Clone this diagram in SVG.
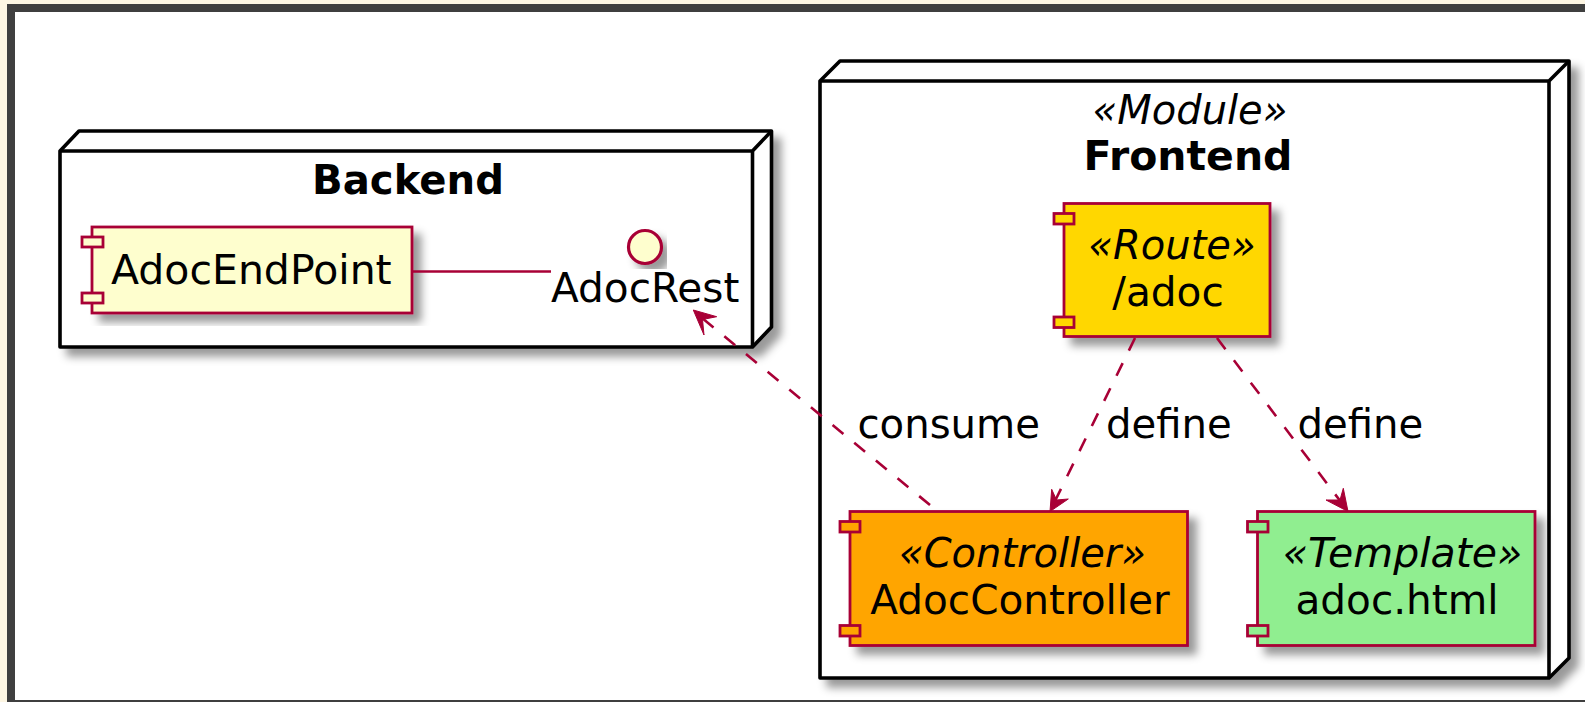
<svg xmlns="http://www.w3.org/2000/svg" width="1585" height="702" viewBox="0 0 1585 702">
<style>
text{font-family:"DejaVu Sans",sans-serif;font-size:40.6px;fill:#000}
.t{text-anchor:middle}
.b{font-weight:bold;font-size:40.2px}
.i{font-style:italic;font-size:40px}
.l{font-size:40.2px}
.n{fill:#fff;stroke:#000;stroke-width:3.6;stroke-linejoin:round}
.c{stroke:#A80036;stroke-width:2.8}
.e{fill:none;stroke:#A80036;stroke-width:2.6}
.d{stroke-dasharray:14 14}
.h{fill:#A80036;stroke:#A80036;stroke-width:1;stroke-linejoin:round}
.s{filter:url(#sh)}
</style>
<defs>
<filter id="sh" x="-10%" y="-10%" width="125%" height="125%"><feDropShadow dx="8" dy="8" stdDeviation="4.500" flood-color="#000" flood-opacity="0.4"/></filter>
</defs>
<rect width="1585" height="702" fill="#FDF6E3"/>
<path d="M7 702V4H1585V702Z" fill="#3F3F3F"/>
<rect x="15" y="12" width="1570" height="688" fill="#fff"/>
<g id="backend">
<path class="n s" d="M60 151L79 131H771.500V327L752.500 347H60Z"/>
<path class="n" d="M60 151H752.500L771.500 131M752.500 151V347" style="fill:none"/>
<text class="t b" x="408" y="194">Backend</text>
</g>
<g id="frontend">
<path class="n s" d="M820 81L840 61H1569V658L1549 678H820Z"/>
<path class="n" d="M820 81H1549L1569 61M1549 81V678" style="fill:none"/>
<text class="t i" x="1190" y="123.500">«Module»</text>
<text class="t b" x="1188" y="170" style="font-size:41px">Frontend</text>
</g>
<g id="AdocEndPoint">
<rect class="c s" x="92" y="227" width="320" height="86" fill="#FEFECE"/>
<rect class="c" x="82" y="237" width="21" height="10" fill="#FEFECE"/>
<rect class="c" x="82" y="293" width="21" height="10" fill="#FEFECE"/>
<text x="111" y="283.500" style="font-size:41px">AdocEndPoint</text>
</g>
<g id="AdocRest">
<circle class="c s" cx="645" cy="247" r="16.500" fill="#FEFECE" style="stroke-width:3.200"/>
<text x="551" y="301.500">AdocRest</text>
</g>
<g id="route">
<rect class="c s" x="1064" y="203.500" width="206" height="133" fill="#FFD700"/>
<rect class="c" x="1054" y="213.500" width="20" height="10.500" fill="#FFD700"/>
<rect class="c" x="1054" y="317" width="20" height="10.500" fill="#FFD700"/>
<text class="t i" x="1172" y="258.500">«Route»</text>
<text class="t" x="1168" y="305.500">/adoc</text>
</g>
<g id="controller">
<rect class="c s" x="850" y="511.500" width="337.500" height="134" fill="#FFA500"/>
<rect class="c" x="840" y="521.500" width="20" height="10.500" fill="#FFA500"/>
<rect class="c" x="840" y="625.500" width="20" height="10.500" fill="#FFA500"/>
<text class="t i" x="1022.500" y="566.500">«Controller»</text>
<text class="t" x="1020" y="613.500">AdocController</text>
</g>
<g id="template">
<rect class="c s" x="1257.500" y="511.500" width="277.500" height="134" fill="#90EE90"/>
<rect class="c" x="1247.500" y="521.500" width="20.500" height="10.500" fill="#90EE90"/>
<rect class="c" x="1247.500" y="625.500" width="20.500" height="10.500" fill="#90EE90"/>
<text class="t i" x="1402.500" y="566.500" style="font-size:41px">«Template»</text>
<text class="t" x="1397" y="613.500">adoc.html</text>
</g>
<g id="connectors">
<path class="e" d="M412 271.500H551"/>
<path class="e d" d="M930 505L702 318"/>
<path class="h" d="M693.300 310L716.700 316.700L702.500 319.500L704 335Z"/>
<path class="e d" d="M1135 338L1055 501"/>
<path class="h" d="M1050 511.500L1051.700 489.300L1056.500 500L1068.300 499Z"/>
<path class="e d" d="M1217 338L1341 502"/>
<path class="h" d="M1348 511.500L1343.300 488.300L1340 500L1326 500Z"/>
<text class="l" x="857.500" y="437.500">consume</text>
<text class="l" x="1106" y="437.500">define</text>
<text class="l" x="1297.500" y="437.500">define</text>
</g>
</svg>
